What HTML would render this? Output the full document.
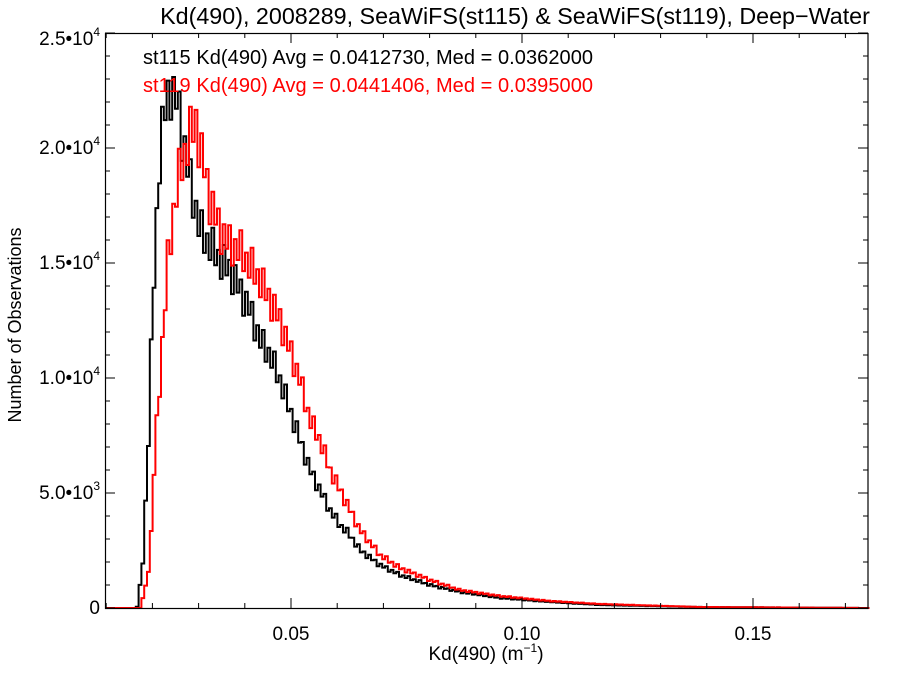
<!DOCTYPE html>
<html><head><meta charset="utf-8"><style>
body{margin:0;background:#fff;}
svg text{font-family:"Liberation Sans",sans-serif;}
</style></head><body>
<svg id="s" width="900" height="675" viewBox="0 0 900 675" xmlns="http://www.w3.org/2000/svg">
<rect width="900" height="675" fill="#fff"/>
<text x="515" y="24" font-size="23.3" text-anchor="middle">Kd(490), 2008289, SeaWiFS(st115) &amp; SeaWiFS(st119), Deep−Water</text>
<g id="plot"></g>
<rect x="105.5" y="33.5" width="762.5" height="575" fill="none" stroke="#000" stroke-width="1.2"/>
<g id="ticks" stroke="#000" stroke-width="1"></g>
<g font-size="19" text-anchor="end">
<text x="100" y="614">0</text>
<text x="100" y="499">5.0•10<tspan font-size="12" dy="-9">3</tspan></text>
<text x="100" y="384">1.0•10<tspan font-size="12" dy="-9">4</tspan></text>
<text x="100" y="269">1.5•10<tspan font-size="12" dy="-9">4</tspan></text>
<text x="100" y="154">2.0•10<tspan font-size="12" dy="-9">4</tspan></text>
<text x="100" y="45">2.5•10<tspan font-size="12" dy="-9">4</tspan></text>
</g>
<g font-size="19" text-anchor="middle">
<text x="291" y="640">0.05</text>
<text x="522" y="640">0.10</text>
<text x="753" y="640">0.15</text>
<text x="486" y="660">Kd(490) (m<tspan font-size="12" dy="-8">−1</tspan><tspan dy="8">)</tspan></text>
</g>
<text transform="translate(21,325) rotate(-90)" font-size="18" text-anchor="middle">Number of Observations</text>
<text x="143" y="64" font-size="20" textLength="450">st115 Kd(490) Avg = 0.0412730, Med = 0.0362000</text>
<text x="143" y="92" font-size="20" fill="#f00" textLength="450">st119 Kd(490) Avg = 0.0441406, Med = 0.0395000</text>
</svg>
<script>
var ns="http://www.w3.org/2000/svg";
var blk=[[105,608],[137,608],[139,595],[143,560],[148,450],[153,300],[156,235],[160,150],[165,110],[170,90],[173,85],[178,105],[183,140],[190,180],[200,230],[210,245],[220,260],[230,270],[240,290],[250,310],[260,340],[270,355],[280,380],[290,410],[300,440],[310,470],[320,490],[330,510],[340,525],[350,535],[360,550],[380,565],[400,575],[430,585],[460,592],[500,598],[550,602],[600,605],[700,607],[868,608]];
var red=[[105,608],[140,608],[145,590],[150,560],[155,450],[162,350],[168,260],[175,200],[180,170],[190,135],[196,122],[200,150],[205,170],[210,200],[220,230],[230,245],[240,250],[250,265],[260,280],[270,300],[280,320],[290,350],[300,380],[310,420],[320,440],[330,470],[340,490],[350,510],[360,530],[380,555],[400,568],[430,580],[460,590],[500,596],[550,601],[600,604],[700,607],[868,608]];
function interp(p,x){for(var i=1;i<p.length;i++){if(x<=p[i][0]){var a=p[i-1],b=p[i];return a[1]+(b[1]-a[1])*(x-a[0])/(b[0]-a[0]);}}return 608;}
function path(p,col,seed){
 var w=2.8,d="M105,608",x=105,k=0;
 while(x<868){var y=interp(p,x+w/2);var h=608-y;var z=(k%2==0)?1:-1;var r=Math.sin(k*1.7+seed)*0.5+0.5;
 y=608-h*(1+z*0.04*(0.5+r));if(y>608)y=608;if(y<77)y=77;
 d+="L"+x.toFixed(1)+","+y.toFixed(1)+"L"+(x+w).toFixed(1)+","+y.toFixed(1);x+=w;k++;}
 var e=document.createElementNS(ns,"path");e.setAttribute("d",d);e.setAttribute("fill","none");e.setAttribute("stroke",col);e.setAttribute("stroke-width","2");
 document.getElementById("plot").appendChild(e);}
path(blk,"#000",0);path(red,"#f00",1.3);
var t=document.getElementById("ticks"),s="";
var xs=[];for(var v=0.01;v<=0.1751;v+=0.01){xs.push(291+(v-0.05)*4620);}
xs.forEach(function(x,i){var v=Math.round((0.01+i*0.01)*100);var L=(v%5==0)?10:5;
 s+='<line x1="'+x+'" y1="608" x2="'+x+'" y2="'+(608-L)+'"/><line x1="'+x+'" y1="33" x2="'+x+'" y2="'+(33+L)+'"/>';});
for(var j=0;j<=25;j++){var y=608-23*j;var L=(j%5==0)?10:5;
 s+='<line x1="105" y1="'+y+'" x2="'+(105+L)+'" y2="'+y+'"/><line x1="868" y1="'+y+'" x2="'+(868-L)+'" y2="'+y+'"/>';}
t.innerHTML=s;
</script>
</body></html>
